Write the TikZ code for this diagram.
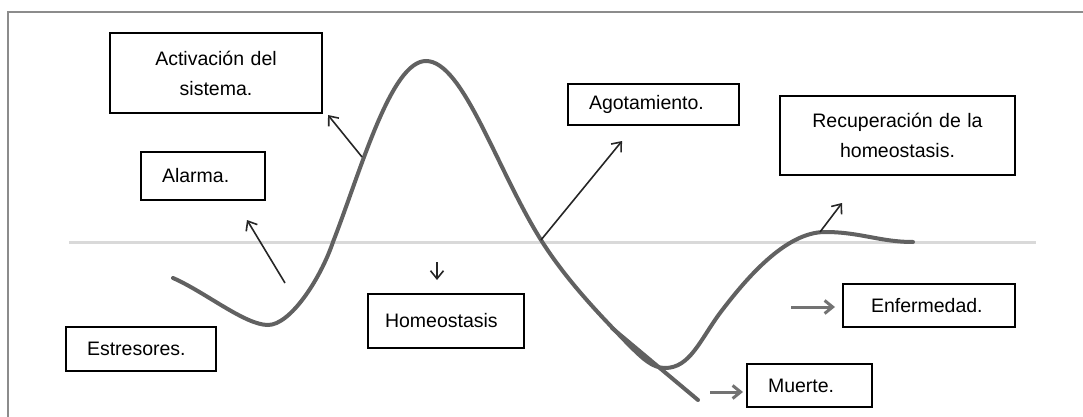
\documentclass[tikz,border=0pt]{standalone}
\usepackage{fontspec}
\setmainfont{Liberation Sans}
\usetikzlibrary{arrows.meta}

\begin{document}
\begin{tikzpicture}[x=1pt, y=-1pt, >={Straight Barb[length=8pt, width=13pt]},
  caja/.style={draw, line width=1.6pt, inner ysep=0pt, inner xsep=21pt,
               align=left, font=\fontsize{19.5}{30}\selectfont},
  curva/.style={line width=4pt, black!62, line cap=round},
  flecha/.style={->, line width=1.6pt, black!85},
  flechagris/.style={->, line width=3pt, black!55}]
  \useasboundingbox (0,0) rectangle (1083,417);
  \draw[line width=1.2pt, black!45] (1083,12) -- (8,12) -- (8,417);
  \draw[line width=3pt, black!15] (69,242) -- (1036,242);

  \node[caja, align=center, text width=170pt, minimum height=80pt] (activacion)
    at (216,73) {Activación del\\sistema.};
  \node[caja, text width=82pt, minimum height=48pt] (alarma) at (203,176) {Alarma.};
  \node[caja, text width=108pt, minimum height=44pt] (estresores) at (141,349) {Estresores.};
  \node[caja, inner xsep=17pt, text width=122pt, minimum height=54pt] (homeostasis)
    at (446,321) {Homeostasis};
  \node[caja, text width=129pt, minimum height=41pt] (agotamiento) at (653.5,104.5) {Agotamiento.};
  \node[caja, align=center, text width=193pt, minimum height=79pt] (recuperacion)
    at (897.5,135.5) {Recuperación de la\\homeostasis.};
  \node[caja, inner xsep=28pt, text width=116pt, minimum height=43pt] (enfermedad)
    at (929,305.5) {Enfermedad.};
  \node[caja, text width=83pt, minimum height=43pt] (muerte) at (809.5,385.5) {Muerte.};

  \draw[curva] (173,278) .. controls (205,292) and (245,325) .. (268,325)
    .. controls (290,325) and (320,280) .. (333,242)
    .. controls (361,170) and (391,61) .. (426,61)
    .. controls (463,61) and (496,168) .. (541,240)
    .. controls (568,283) and (605,320) .. (627,343)
    .. controls (642,358) and (652,368) .. (665,368)
    .. controls (690,368) and (700,340) .. (720,313)
    .. controls (745,280) and (785,232) .. (825,232)
    .. controls (860,232) and (880,242) .. (913,242);
  \draw[curva] (612,328) -- (698,400);

  \coordinate (sAlarma) at (285,283);
  \coordinate (fAlarma) at (247,220);
  \coordinate (sActivacion) at (362,157);
  \coordinate (fActivacion) at (328,115);
  \coordinate (sHomeo) at (437,262);
  \coordinate (fHomeo) at (437,280);
  \coordinate (sAgot) at (541,240);
  \coordinate (fAgot) at (622,141);
  \coordinate (sRecup) at (820,232);
  \coordinate (fRecup) at (842,203);
  \coordinate (sEnferm) at (791,307);
  \coordinate (fEnferm) at (835,307);
  \coordinate (sMuerte) at (710,392);
  \coordinate (fMuerte) at (743,392);

  \draw[flecha] (sAlarma) -- (fAlarma);
  \draw[flecha] (sActivacion) -- (fActivacion);
  \draw[flecha] (sHomeo) -- (fHomeo);
  \draw[flecha] (sAgot) -- (fAgot);
  \draw[flecha] (sRecup) -- (fRecup);
  \draw[flechagris] (sEnferm) -- (fEnferm);
  \draw[flechagris] (sMuerte) -- (fMuerte);
\end{tikzpicture}
\end{document}
